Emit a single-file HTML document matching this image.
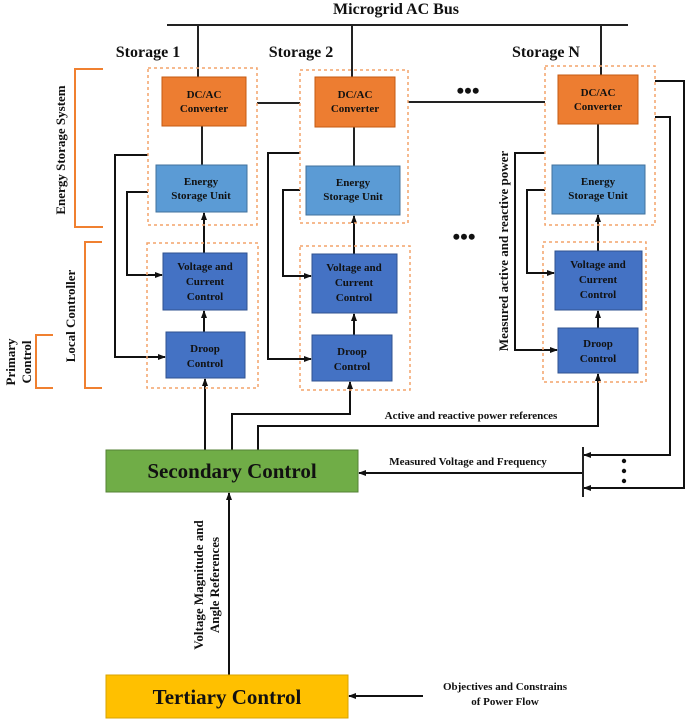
<!DOCTYPE html>
<html><head><meta charset="utf-8"><style>
body{margin:0;background:#fff;}
svg{display:block;font-family:"Liberation Serif",serif;font-weight:bold;}
</style></head><body>
<svg width="685" height="720" viewBox="0 0 685 720" xmlns="http://www.w3.org/2000/svg">
<defs>
<marker id="a" markerWidth="8" markerHeight="8" refX="7" refY="4" orient="auto" markerUnits="userSpaceOnUse">
<path d="M0,1 L8,4 L0,7 z" fill="#111"/></marker>
</defs>
<g stroke="#222" stroke-width="2" fill="none">
<line x1="167" y1="25" x2="628" y2="25"/>
<line x1="198" y1="25" x2="198" y2="77"/>
<line x1="352" y1="25" x2="352" y2="77"/>
<line x1="601" y1="25" x2="601" y2="75"/>
<line x1="257" y1="103" x2="300" y2="103"/>
<line x1="408" y1="102" x2="545" y2="102"/>
<line x1="202" y1="126" x2="202" y2="165"/>
<line x1="354" y1="127" x2="354" y2="166"/>
<line x1="598" y1="124" x2="598" y2="165"/>
</g>
<g stroke="#111" stroke-width="2" fill="none" marker-end="url(#a)">
<line x1="204" y1="253" x2="204" y2="213"/>
<line x1="204" y1="332" x2="204" y2="311"/>
<line x1="354" y1="254" x2="354" y2="216"/>
<line x1="354" y1="335" x2="354" y2="314"/>
<line x1="598" y1="251" x2="598" y2="215"/>
<line x1="598" y1="328" x2="598" y2="311"/>
<polyline points="148,155 115,155 115,357 165,357"/>
<polyline points="148,192 127,192 127,275 162,275"/>
<polyline points="300,153 268,153 268,359 311,359"/>
<polyline points="300,190 283,190 283,276 311,276"/>
<polyline points="545,153 515,153 515,350 557,350"/>
<polyline points="545,190 527,190 527,273 554,273"/>
<line x1="205" y1="450" x2="205" y2="379"/>
<polyline points="232,450 232,414 350,414 350,382"/>
<polyline points="258,450 258,426 598,426 598,374"/>
<polyline points="655,81 684,81 684,488 584,488"/>
<polyline points="655,117 670,117 670,455 584,455"/>
<line x1="583" y1="473" x2="359" y2="473"/>
<line x1="229" y1="675" x2="229" y2="493"/>
<line x1="423" y1="696" x2="349" y2="696"/>
</g>
<line x1="583" y1="447" x2="583" y2="497" stroke="#222" stroke-width="2"/>
<g stroke="#f4a46a" stroke-width="1.5" stroke-dasharray="3,3" fill="none">
<rect x="148" y="68" width="109" height="157"/>
<rect x="147" y="243" width="111" height="145"/>
<rect x="300" y="70" width="108" height="153"/>
<rect x="300" y="246" width="110" height="144"/>
<rect x="545" y="66" width="110" height="159"/>
<rect x="543" y="242" width="103" height="140"/>
</g>
<g stroke="#f08030" stroke-width="2" fill="none">
<polyline points="103,69 75,69 75,227 103,227"/>
<polyline points="102,242 85,242 85,388 102,388"/>
<polyline points="53,335 36,335 36,388 53,388"/>
</g>
<g stroke="#c55a11" stroke-width="1">
<rect x="162" y="77" width="84" height="49" fill="#ed7d31"/>
<rect x="315" y="77" width="80" height="50" fill="#ed7d31"/>
<rect x="558" y="75" width="80" height="49" fill="#ed7d31"/>
</g>
<g stroke="#41719c" stroke-width="1" fill="#5b9bd5">
<rect x="156" y="165" width="91" height="47"/>
<rect x="306" y="166" width="94" height="49"/>
<rect x="552" y="165" width="93" height="49"/>
</g>
<g stroke="#2f528f" stroke-width="1" fill="#4472c4">
<rect x="163" y="253" width="84" height="57"/>
<rect x="166" y="332" width="79" height="46"/>
<rect x="312" y="254" width="85" height="59"/>
<rect x="312" y="335" width="80" height="46"/>
<rect x="555" y="251" width="87" height="59"/>
<rect x="558" y="328" width="80" height="45"/>
</g>
<rect x="106" y="450" width="252" height="42" fill="#70ad47" stroke="#548235"/>
<rect x="106" y="675" width="242" height="43" fill="#ffc000" stroke="#d9a300"/>
<g fill="#111" text-anchor="middle">
<text x="396" y="14" font-size="16">Microgrid AC Bus</text>
<text x="148" y="57" font-size="16">Storage 1</text>
<text x="301" y="57" font-size="16">Storage 2</text>
<text x="546" y="57" font-size="16">Storage N</text>
<text x="468" y="98" font-size="22">•••</text>
<text x="464" y="244" font-size="22">•••</text>
<g font-size="11">
<text x="204" y="98">DC/AC</text><text x="204" y="112">Converter</text>
<text x="355" y="98">DC/AC</text><text x="355" y="112">Converter</text>
<text x="598" y="96">DC/AC</text><text x="598" y="110">Converter</text>
<text x="201" y="185">Energy</text><text x="201" y="199">Storage Unit</text>
<text x="353" y="186">Energy</text><text x="353" y="200">Storage Unit</text>
<text x="598" y="185">Energy</text><text x="598" y="199">Storage Unit</text>
<text x="205" y="270">Voltage and</text><text x="205" y="285">Current</text><text x="205" y="300">Control</text>
<text x="354" y="271">Voltage and</text><text x="354" y="286">Current</text><text x="354" y="301">Control</text>
<text x="598" y="268">Voltage and</text><text x="598" y="283">Current</text><text x="598" y="298">Control</text>
<text x="205" y="352">Droop</text><text x="205" y="367">Control</text>
<text x="352" y="355">Droop</text><text x="352" y="370">Control</text>
<text x="598" y="347">Droop</text><text x="598" y="362">Control</text>
<text x="471" y="419">Active and reactive power references</text>
<text x="468" y="465">Measured Voltage and Frequency</text>
<text x="505" y="690">Objectives and Constrains</text>
<text x="505" y="705">of Power Flow</text>
</g>
<g font-size="13">
<text transform="translate(508,251) rotate(-90)">Measured active and reactive power</text>
<text transform="translate(203,585) rotate(-90)">Voltage Magnitude and</text>
<text transform="translate(219,585) rotate(-90)">Angle References</text>
<text transform="translate(65,150) rotate(-90)">Energy Storage System</text>
<text transform="translate(75,316) rotate(-90)">Local Controller</text>
<text transform="translate(15,362) rotate(-90)">Primary</text>
<text transform="translate(31,362) rotate(-90)">Control</text>
</g>
<text x="232" y="478" font-size="21">Secondary Control</text>
<text x="227" y="704" font-size="21">Tertiary  Control</text>
<circle cx="624" cy="461" r="2.2"/>
<circle cx="624" cy="471" r="2.2"/>
<circle cx="624" cy="481" r="2.2"/>
</g>
</svg>
</body></html>
